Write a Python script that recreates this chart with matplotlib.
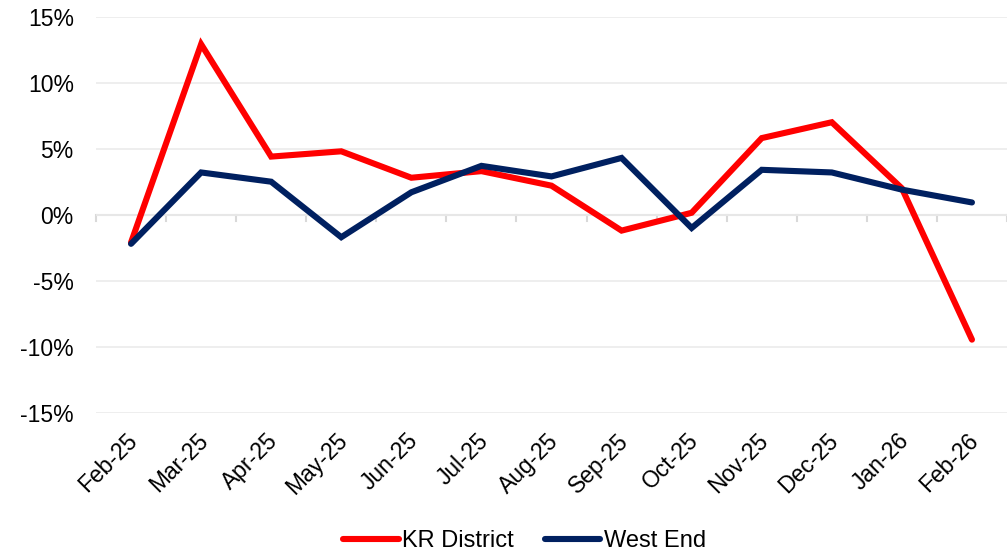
import matplotlib
matplotlib.use("Agg")
import matplotlib.pyplot as plt
from matplotlib.ticker import FuncFormatter
from matplotlib.transforms import ScaledTranslation

months = ["Feb-25", "Mar-25", "Apr-25", "May-25", "Jun-25", "Jul-25", "Aug-25",
          "Sep-25", "Oct-25", "Nov-25", "Dec-25", "Jan-26", "Feb-26"]
kr_district = [-2.1, 12.9, 4.4, 4.8, 2.8, 3.3, 2.2, -1.2, 0.15, 5.8, 7.0, 2.0, -9.45]
west_end = [-2.2, 3.2, 2.5, -1.7, 1.7, 3.7, 2.9, 4.3, -1.0, 3.4, 3.2, 1.9, 0.93]

plt.rcParams["font.family"] = ["Liberation Sans", "DejaVu Sans"]

fig = plt.figure(figsize=(10.07, 5.55), dpi=100, facecolor="white")
ax = fig.add_axes([96 / 1007, 142 / 555, 911 / 1007, 396.5 / 555])

x = list(range(len(months)))
ax.plot(x, kr_district, color="#FF0000", lw=4.4, solid_capstyle="round",
        solid_joinstyle="miter", label="KR District", zorder=3)
ax.plot(x, west_end, color="#002060", lw=4.4, solid_capstyle="round",
        solid_joinstyle="miter", label="West End", zorder=3)

ax.set_xlim(-0.5, len(months) - 0.5)
ax.set_ylim(-15, 15)
ax.set_yticks(range(-15, 16, 5))
ax.yaxis.set_major_formatter(FuncFormatter(lambda v, p: f"{v:.0f}%"))
ax.grid(axis="y", color="#EBEBEB", lw=1.2, zorder=0)

for s in ax.spines.values():
    s.set_visible(False)
ax.axhline(0, color="#D9D9D9", lw=1.5, zorder=1)

# category labels at centres, tick marks at boundaries along the zero line
ax.set_xticks(x)
ax.set_xticklabels(months, rotation=45, ha="right", rotation_mode="anchor")
ax.tick_params(axis="x", length=0, labelsize=16.5, pad=8)
ax.tick_params(axis="y", length=0, labelsize=16.5, pad=16)
shift = ScaledTranslation(-5 / 100, -5 / 100, fig.dpi_scale_trans)
for lab in ax.get_xticklabels():
    lab.set_transform(lab.get_transform() + shift)
for b in [i - 0.5 for i in range(len(months) + 1)]:
    ax.plot([b, b], [0, -0.45], color="#D9D9D9", lw=1.5, zorder=1, clip_on=False)

fig.legend(loc="center", bbox_to_anchor=(0.521, 1 - 541 / 555), ncol=2, frameon=False,
           fontsize=17, handlelength=2.35, handletextpad=0.15, columnspacing=1.3)

fig.savefig("out.png", dpi=100, facecolor="white")
